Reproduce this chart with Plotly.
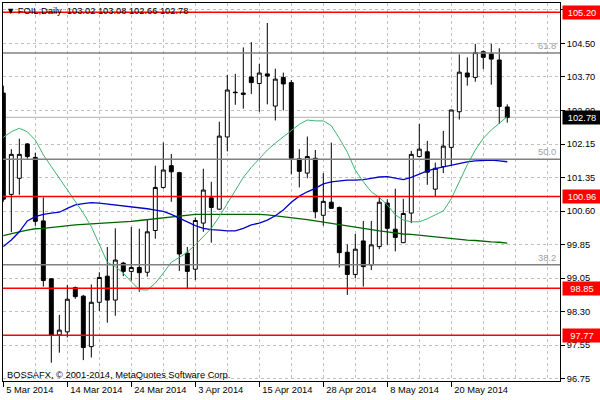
import plotly.graph_objects as go

# ---------------- data ----------------
tick_labels = ["5 Mar 2014", "14 Mar 2014", "24 Mar 2014", "3 Apr 2014",
               "15 Apr 2014", "28 Apr 2014", "8 May 2014", "20 May 2014"]

opens = [103.34, 101.01, 101.38, 102.17, 101.86, 100.40, 99.07, 97.78, 97.85, 98.87,
         98.67, 97.51, 98.53, 99.13, 98.58, 99.43, 99.24, 99.33, 99.22, 100.18,
         101.17, 101.67, 101.51, 99.66, 99.29, 100.35, 100.93, 100.67, 102.33, 103.36,
         103.34, 103.71, 103.56, 103.78, 103.04, 103.70, 103.58, 101.83, 101.50, 101.84,
         100.53, 100.83, 100.71, 99.68, 99.17, 99.94, 99.39, 99.81, 100.81, 100.21,
         99.90, 100.58, 101.88, 101.99, 101.13, 101.65, 102.09, 102.91, 103.80, 103.70,
         104.29, 104.24, 104.10, 103.02]
highs = [103.51, 102.05, 102.29, 102.19, 101.97, 100.94, 99.08, 98.24, 98.93, 98.89,
         98.70, 98.94, 99.22, 99.80, 100.23, 99.46, 100.26, 100.22, 100.44, 101.67,
         102.20, 101.94, 101.53, 99.80, 100.48, 101.60, 101.30, 102.68, 103.76, 103.78,
         104.39, 104.51, 104.01, 104.95, 103.90, 103.81, 103.64, 102.05, 102.34, 102.03,
         101.50, 102.20, 100.73, 99.86, 100.10, 100.40, 100.40, 100.96, 100.90, 101.14,
         100.91, 102.01, 102.63, 102.24, 101.74, 102.47, 102.96, 104.23, 104.16, 104.47,
         104.32, 104.47, 104.37, 103.08]
lows = [100.84, 100.14, 101.00, 101.83, 100.29, 98.89, 97.14, 97.37, 97.72, 98.61,
        97.20, 97.26, 98.33, 98.06, 98.22, 99.13, 99.03, 98.77, 99.12, 99.99,
        101.14, 100.84, 99.25, 98.83, 99.04, 100.15, 99.90, 100.65, 102.00, 103.07,
        102.98, 103.32, 102.91, 103.08, 102.71, 102.94, 101.47, 101.17, 101.38, 100.46,
        100.29, 100.68, 99.33, 98.70, 99.08, 98.89, 99.27, 99.75, 99.85, 99.70,
        99.89, 100.35, 101.86, 101.23, 100.95, 101.50, 101.67, 102.73, 103.51, 103.60,
        103.89, 103.53, 102.63, 102.66]
closes = [100.90, 101.93, 101.93, 101.88, 100.39, 99.03, 97.78, 97.89, 98.60, 98.66,
          97.49, 98.53, 99.10, 98.58, 99.50, 99.24, 99.33, 99.21, 100.15, 101.17,
          101.57, 101.53, 99.64, 99.24, 100.41, 101.11, 100.71, 102.35, 103.41, 103.35,
          103.31, 103.58, 103.80, 103.73, 103.66, 103.55, 101.84, 101.54, 101.88, 100.61,
          100.85, 100.69, 99.67, 99.17, 99.75, 99.35, 99.85, 100.83, 100.23, 100.02,
          100.57, 101.93, 102.05, 101.52, 101.61, 102.12, 102.95, 103.82, 103.71, 104.27,
          104.16, 104.12, 103.03, 102.78]

ma_fast = [102.32, 102.45, 102.53, 102.45, 102.26, 101.92, 101.65, 101.38, 101.11, 100.83,
           100.58, 100.27, 99.86, 99.45, 99.35, 99.20, 99.00, 98.82, 98.81, 98.97,
           99.20, 99.45, 99.56, 99.68, 99.85, 100.04, 100.23, 100.50, 100.81, 101.10,
           101.40, 101.63, 101.82, 102.03, 102.19, 102.34, 102.49, 102.62, 102.72, 102.70,
           102.70, 102.59, 102.30, 101.98, 101.57, 101.30, 101.07, 100.94, 100.77, 100.54,
           100.42, 100.38, 100.38, 100.45, 100.54, 100.63, 100.91, 101.30, 101.69, 102.03,
           102.30, 102.49, 102.65, 102.80]
ma_mid = [99.81, 99.96, 100.15, 100.40, 100.50, 100.55, 100.58, 100.60, 100.69, 100.77,
          100.80, 100.82, 100.81, 100.79, 100.77, 100.75, 100.73, 100.71, 100.68, 100.65,
          100.62, 100.55, 100.46, 100.37, 100.29, 100.23, 100.20, 100.19, 100.17, 100.17,
          100.23, 100.31, 100.35, 100.42, 100.52, 100.65, 100.83, 100.97, 101.07, 101.15,
          101.25, 101.30, 101.32, 101.34, 101.34, 101.35, 101.38, 101.41, 101.42, 101.38,
          101.35, 101.40, 101.48, 101.55, 101.60, 101.64, 101.69, 101.73, 101.76, 101.78,
          101.79, 101.80, 101.78, 101.76]
ma_slow = [100.06, 100.11, 100.15, 100.19, 100.22, 100.23, 100.25, 100.28, 100.29, 100.31,
           100.32, 100.33, 100.34, 100.35, 100.37, 100.38, 100.39, 100.41, 100.43, 100.45,
           100.47, 100.50, 100.52, 100.54, 100.55, 100.55, 100.55, 100.55, 100.55, 100.56,
           100.56, 100.56, 100.55, 100.54, 100.52, 100.50, 100.48, 100.45, 100.43, 100.40,
           100.37, 100.34, 100.31, 100.28, 100.25, 100.22, 100.19, 100.17, 100.15, 100.12,
           100.10, 100.09, 100.07, 100.05, 100.03, 100.02, 99.99, 99.98, 99.96, 99.95,
           99.93, 99.92, 99.91, 99.89]

level_lines = [105.20, 100.96, 98.85, 97.77]
fib_levels = [104.26, 101.82, 99.39]
fib_labels = ["61.8", "50.0", "38.2"]
bid_price = 102.78
price_tick_labels = ["", "104.50", "103.70", "102.90", "102.15", "101.35",
                     "100.60", "99.85", "99.05", "98.30", "97.55", "96.75"]
title_text = "▼ FOIL,Daily  103.02 103.08 102.66 102.78"
copyright_text = "BOSSAFX, © 2001-2014, MetaQuotes Software Corp."

# ---------------- figure ----------------
W, H = 600, 400
L_M, R_M, T_M, B_M = 3, 40, 3, 19
PW = W - L_M - R_M
PH = H - T_M - B_M
FONT = "Liberation Sans, Arial, sans-serif"

bars = list(range(len(opens)))

fig = go.Figure()
fig.add_trace(go.Candlestick(
    x=bars, open=opens, high=highs, low=lows, close=closes,
    increasing=dict(fillcolor="white", line=dict(color="black", width=1)),
    decreasing=dict(fillcolor="black", line=dict(color="black", width=1)),
    whiskerwidth=0, showlegend=False, hoverinfo="skip"))

fig.add_trace(go.Scatter(x=bars, y=ma_slow, mode="lines",
                         line=dict(color="#006400", width=1.3), showlegend=False))
fig.add_trace(go.Scatter(x=bars, y=ma_mid, mode="lines",
                         line=dict(color="#0000CD", width=1.3), showlegend=False))
fig.add_trace(go.Scatter(x=bars, y=ma_fast, mode="lines",
                         line=dict(color="#3CB371", width=1), showlegend=False))

shapes = []
for lv in fib_levels:
    shapes.append(dict(type="line", xref="paper", x0=0, x1=1, yref="y", y0=lv, y1=lv,
                       line=dict(color="#808080", width=1.5), layer="above"))
shapes.append(dict(type="line", xref="paper", x0=0, x1=1, yref="y", y0=bid_price, y1=bid_price,
                   line=dict(color="#C0C0C0", width=1.2), layer="below"))
for lv in level_lines:
    shapes.append(dict(type="line", xref="paper", x0=0, x1=1, yref="y", y0=lv, y1=lv,
                       line=dict(color="#FF0000", width=1.5), layer="above"))

annotations = []
label_x = (562 - L_M) / PW
for lv in level_lines:
    annotations.append(dict(xref="paper", x=label_x, xanchor="left", yref="y", y=lv,
                            yanchor="middle", text=f"{lv:.2f}", showarrow=False,
                            bgcolor="#FF0000", width=36, height=11, align="center",
                            font=dict(family=FONT, size=9.3, color="white")))
annotations.append(dict(xref="paper", x=label_x, xanchor="left", yref="y", y=bid_price,
                        yanchor="middle", text=f"{bid_price:.2f}", showarrow=False,
                        bgcolor="black", width=36, height=11, align="center",
                        font=dict(family=FONT, size=9.3, color="white")))
for lv, lab in zip(fib_levels, fib_labels):
    annotations.append(dict(xref="paper", x=(558 - L_M) / PW, xanchor="right", yref="y", y=lv,
                            yanchor="bottom", yshift=0, text=lab, showarrow=False,
                            font=dict(family=FONT, size=9.3, color="#A0A0A0")))
annotations.append(dict(xref="paper", x=(4 - L_M) / PW, xanchor="left", yref="paper",
                        y=(H - B_M - 11) / PH, yanchor="middle", text=title_text,
                        showarrow=False, font=dict(family=FONT, size=9.3, color="black")))
annotations.append(dict(xref="paper", x=(5 - L_M) / PW, xanchor="left", yref="paper",
                        y=(H - B_M - 375) / PH, yanchor="middle", text=copyright_text,
                        showarrow=False, font=dict(family=FONT, size=9.3, color="black")))

# price axis geometry: top grid line and spacing
grid_top, grid_step = 105.25, 0.7705
price_tick_vals = [grid_top - k * grid_step for k in range(len(price_tick_labels))]

major_x = [8 * k for k in range(len(tick_labels))]
minor_x = [4 + 8 * k for k in range(8)] + [64, 68]

fig.update_layout(
    width=W, height=H, margin=dict(l=L_M, r=R_M, t=T_M, b=B_M, pad=0),
    paper_bgcolor="white", plot_bgcolor="white",
    shapes=shapes, annotations=annotations, showlegend=False,
    font=dict(family=FONT, size=9, color="black"),
    xaxis=dict(range=[-0.04, 69.59], tickmode="array", tickvals=major_x, ticktext=tick_labels,
               showgrid=True, gridcolor="#C0C0C0", griddash="3px,3px", gridwidth=1,
               ticks="outside", ticklen=5, tickcolor="black", tickwidth=1,
               ticklabelposition="outside right", ticklabelshift=2,
               showline=True, linecolor="black", linewidth=1, mirror=True,
               zeroline=False, rangeslider=dict(visible=False),
               tickfont=dict(family=FONT, size=9.3, color="black"),
               minor=dict(tickmode="array", tickvals=minor_x, showgrid=True,
                          gridcolor="#C0C0C0", griddash="3px,3px", gridwidth=1, ticks="")),
    yaxis=dict(range=[96.72, 105.41], side="right", tickmode="array",
               tickvals=price_tick_vals, ticktext=price_tick_labels,
               showgrid=True, gridcolor="#C0C0C0", griddash="3px,3px", gridwidth=1,
               ticks="outside", ticklen=4, tickcolor="black", tickwidth=1,
               showline=True, linecolor="black", linewidth=1, mirror=True,
               zeroline=False, tickfont=dict(family=FONT, size=9.3, color="black")),
)

fig.write_html("out.html")
